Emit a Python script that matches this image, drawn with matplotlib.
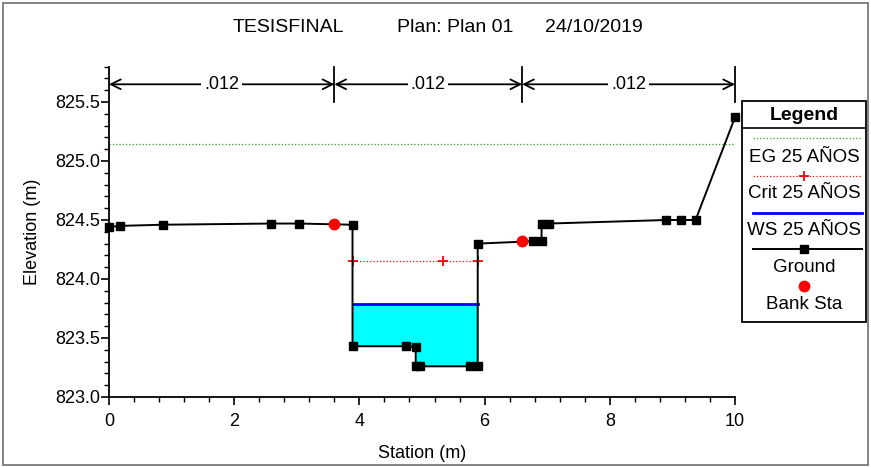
"""
Cross section plot (HEC-RAS style): ground profile, water surface,
critical depth, energy grade and Manning n brackets.
"""

import matplotlib
matplotlib.use("Agg")
import matplotlib.pyplot as plt
from matplotlib.patches import Rectangle
from matplotlib.ticker import MultipleLocator, FormatStrFormatter

plt.rcParams["font.family"] = ["Liberation Sans", "DejaVu Sans"]

# ---------------------------------------------------------------------------
# Data
# ---------------------------------------------------------------------------
ground_sta = [0.0, 0.17, 0.86, 2.59, 3.03, 3.89, 3.89, 4.74, 4.90, 4.90, 4.97,
              5.76, 5.89, 5.89, 6.77, 6.91, 6.91, 7.03, 8.90, 9.14, 9.37, 10.0]
ground_elev = [824.44, 824.45, 824.46, 824.47, 824.47, 824.46, 823.43, 823.43,
               823.42, 823.26, 823.26, 823.26, 823.26, 824.30, 824.32, 824.32,
               824.47, 824.47, 824.50, 824.50, 824.50, 825.37]

bank_sta = [3.59, 6.59]
bank_elev = [824.47, 824.32]

ws_sta = [3.89, 5.89]
ws_elev = 823.785
crit_sta = [3.89, 5.33, 5.89]
crit_elev = 824.155
eg_sta = [0.0, 10.0]
eg_elev = 825.14

n_sta = [0.0, 3.6, 6.6, 10.0]
n_vals = [".012", ".012", ".012"]

legend_labels = ["EG 25 AÑOS", "Crit 25 AÑOS", "WS 25 AÑOS", "Ground", "Bank Sta"]

W, H = 871, 467
LFS = 13.5  # legend text

fig = plt.figure(figsize=(W / 100, H / 100), dpi=100)
ax = fig.add_axes([109 / W, 1 - 397 / H, (735 - 109) / W, (397 - 66.6) / H])

# water fill between ground and WS inside the channel
i0, i1 = ground_sta.index(3.89) + 1, ground_sta.index(5.89) + 1
ax.fill_between(ground_sta[i0:i1], ground_elev[i0:i1], ws_elev,
                color="#00FFFF", lw=0, zorder=1)

ax.plot(eg_sta, [eg_elev] * len(eg_sta), color="#2f9e2f", lw=0.9, ls=":", zorder=2)
ax.plot(crit_sta, [crit_elev] * len(crit_sta), color="red", lw=0.9, ls=":",
        marker="+", ms=7, mew=1.3, zorder=3)
ax.plot(ws_sta, [ws_elev] * len(ws_sta), color="#0000FF", lw=2.0, zorder=3)
ax.plot(ground_sta, ground_elev, color="black", lw=1.4, marker="s", ms=5.5,
        zorder=4, clip_on=False)
ax.plot(bank_sta, bank_elev, ls="none", marker="o", color="red", ms=7.5,
        zorder=5, clip_on=False)

# Manning n brackets above the section
n_y = 825.65
for a, b, lab in zip(n_sta[:-1], n_sta[1:], n_vals):
    ax.annotate("", xy=(a, n_y), xytext=(b, n_y), annotation_clip=False,
                arrowprops=dict(arrowstyle="<->,head_length=0.7,head_width=0.35",
                                shrinkA=0, shrinkB=0, lw=1.3, color="black"))
    ax.text((a + b) / 2, n_y, lab, ha="center", va="center", fontsize=13,
            bbox=dict(facecolor="white", edgecolor="none", pad=2), zorder=6)
for s in n_sta[1:]:
    ax.plot([s, s], [825.5, 825.8], color="black", lw=1.3, clip_on=False)

ax.set_xlim(0, 10)
ax.set_ylim(823.0, 825.8)
for side in ("top", "right"):
    ax.spines[side].set_visible(False)
for side in ("left", "bottom"):
    ax.spines[side].set_linewidth(1.3)

ax.xaxis.set_major_locator(MultipleLocator(2))
ax.xaxis.set_minor_locator(MultipleLocator(0.4))
ax.yaxis.set_major_locator(MultipleLocator(0.5))
ax.yaxis.set_minor_locator(MultipleLocator(0.1))
ax.yaxis.set_major_formatter(FormatStrFormatter("%.1f"))
ax.set_yticks([823.0, 823.5, 824.0, 824.5, 825.0, 825.5])
ax.tick_params(which="major", length=5.5, width=1.2, labelsize=13)
ax.tick_params(axis="y", which="major", pad=1)
ax.tick_params(axis="x", which="major", pad=6)
ax.tick_params(which="minor", length=3.5, width=1.0)

ax.set_xlabel("Station (m)", fontsize=13, labelpad=11)
ax.set_ylabel("Elevation (m)", fontsize=13, labelpad=10)

# ---------------------------------------------------------------------------
# Overlay in pixel coordinates: frame, title, legend box
# ---------------------------------------------------------------------------
ov = fig.add_axes([0, 0, 1, 1], zorder=-1)
ov.set_xlim(0, W)
ov.set_ylim(H, 0)
ov.axis("off")

ov.add_patch(Rectangle((3, 3), 865, 462, fill=False, edgecolor="#6e6e6e", lw=1.2))

ov.text(233, 27, "TESISFINAL", ha="left", va="center", fontsize=14)
ov.text(397, 27, "Plan: Plan 01", ha="left", va="center", fontsize=14)
ov.text(545, 27, "24/10/2019", ha="left", va="center", fontsize=14)

ov2 = fig.add_axes([0, 0, 1, 1], zorder=10)
ov2.set_xlim(0, W)
ov2.set_ylim(H, 0)
ov2.axis("off")

lx0, lx1, ly0, ly1 = 742, 866, 101, 322
ov2.add_patch(Rectangle((lx0, ly0), lx1 - lx0, ly1 - ly0, facecolor="white",
                        edgecolor="black", lw=1.3))
ov2.plot([lx0, lx1], [128, 128], color="black", lw=1.2)
cx = (lx0 + lx1) / 2
ov2.text(cx, 115, "Legend", ha="center", va="center", fontsize=14, fontweight="bold")

ov2.plot([753, 862], [137.5, 137.5], color="#2f9e2f", lw=0.9, ls=":")
ov2.text(cx, 158, legend_labels[0], ha="center", va="center", fontsize=LFS)
ov2.plot([753, 862], [176, 176], color="red", lw=0.9, ls=":")
ov2.plot([cx], [176], marker="+", color="red", ms=7, mew=1.3)
ov2.text(cx, 194, legend_labels[1], ha="center", va="center", fontsize=LFS)
ov2.plot([753, 862], [212.5, 212.5], color="#0000FF", lw=2.0)
ov2.text(cx, 230.5, legend_labels[2], ha="center", va="center", fontsize=LFS)
ov2.plot([753, 862], [249, 249], color="black", lw=1.4)
ov2.plot([cx], [249], marker="s", color="black", ms=5.5)
ov2.text(cx, 268, legend_labels[3], ha="center", va="center", fontsize=LFS)
ov2.plot([cx], [285.5], marker="o", color="red", ms=7.5)
ov2.text(cx, 304.5, legend_labels[4], ha="center", va="center", fontsize=LFS)

fig.savefig("out.png", dpi=100)
